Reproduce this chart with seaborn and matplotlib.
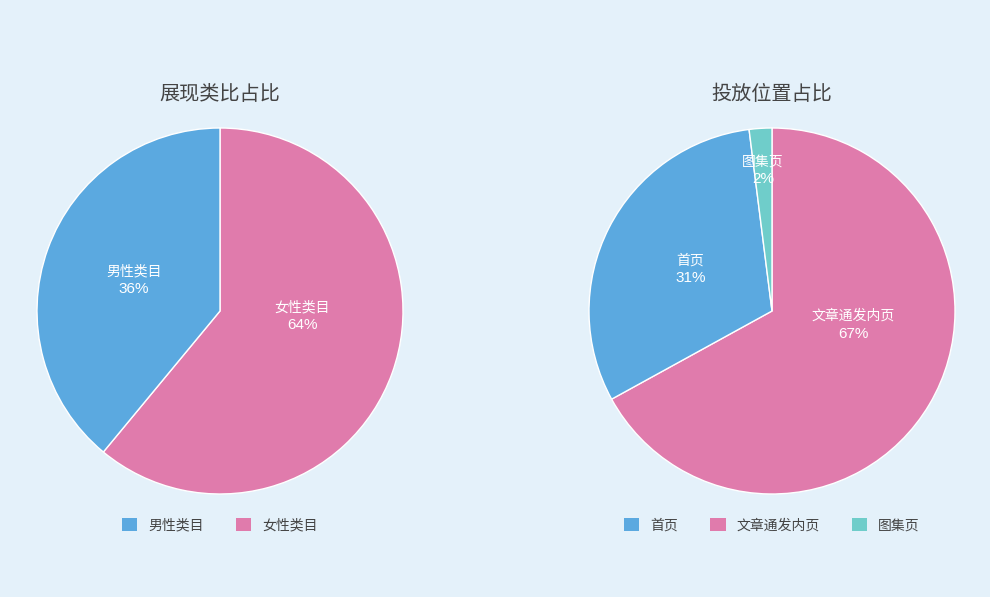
import numpy as np
import matplotlib
matplotlib.use("Agg")
import matplotlib.pyplot as plt
import seaborn as sns
from matplotlib.patches import Patch

sns.set_theme(style="white")
plt.rcParams['font.family'] = ['Noto Sans CJK SC', 'DejaVu Sans']

# veri (legend sırası)
left_title = "展现类比占比"
left_names = ["男性类目", "女性类目"]
left_sizes = [39, 61]          # dilim açıları
left_pct = ["36%", "64%"]      # resimdeki etiket yazıları
left_order = [1, 0]            # saat yönünde çizim sırası

right_title = "投放位置占比"
right_names = ["首页", "文章通发内页", "图集页"]
right_sizes = [31, 67, 2]
right_pct = ["31%", "67%", "2%"]
right_order = [1, 0, 2]

colors = {"首页": "#5ba9e0", "男性类目": "#5ba9e0",
          "女性类目": "#e07bac", "文章通发内页": "#e07bac",
          "图集页": "#6fcdca"}
# etiket konumu: yarıçap ve açı kayması
label_r = {"图集页": 0.77, "女性类目": 0.45, "文章通发内页": 0.45}
label_shift = {"女性类目": 16, "文章通发内页": 21}

bg = "#e4f1fa"
W, H = 990, 597
fig = plt.figure(figsize=(W / 100, H / 100), dpi=100, facecolor=bg)
num_font = ['Liberation Sans', 'Noto Sans CJK SC']


def draw_pie(cx, cy, r, title, names, sizes, pct, order, legend_y):
    ax = fig.add_axes([(cx - r) / W, (H - cy - r) / H, 2 * r / W, 2 * r / H])
    ax.set_facecolor(bg)
    nm = [names[i] for i in order]
    vals = [sizes[i] for i in order]
    txt = [pct[i] for i in order]
    wedges, _ = ax.pie(vals, colors=[colors[n] for n in nm], startangle=90,
                       counterclock=False, radius=1,
                       wedgeprops=dict(edgecolor="white", linewidth=1))
    for w, n, t in zip(wedges, nm, txt):
        mid = np.deg2rad((w.theta1 + w.theta2) / 2 + label_shift.get(n, 0))
        rr = label_r.get(n, 0.5)
        x, y = rr * np.cos(mid), rr * np.sin(mid)
        ax.annotate(n, (x, y), xytext=(0, 6.5), textcoords="offset points",
                    ha="center", va="center", color="white", fontsize=10)
        ax.annotate(t, (x, y), xytext=(0, -6.5), textcoords="offset points",
                    ha="center", va="center", color="white", fontsize=11,
                    family=num_font)
    ax.set_xlim(-1, 1)
    ax.set_ylim(-1, 1)
    ax.set_aspect("equal")
    ax.axis("off")
    fig.text(cx / W, 1 - 95 / H, title, ha="center", va="center",
             fontsize=14.5, color="#444444")
    handles = [Patch(facecolor=colors[n], edgecolor="none", label=n) for n in names]
    fig.legend(handles=handles, loc="center", bbox_to_anchor=(cx / W, 1 - legend_y / H),
               ncol=len(names), frameon=False, fontsize=10, handlelength=1.1,
               handleheight=1.1, handletextpad=0.8, columnspacing=2.3,
               labelcolor="#444444")


draw_pie(220, 311, 183, left_title, left_names, left_sizes, left_pct, left_order, 525)
draw_pie(772, 311, 183, right_title, right_names, right_sizes, right_pct, right_order, 525)

plt.savefig("out.png", dpi=100, facecolor=bg)
